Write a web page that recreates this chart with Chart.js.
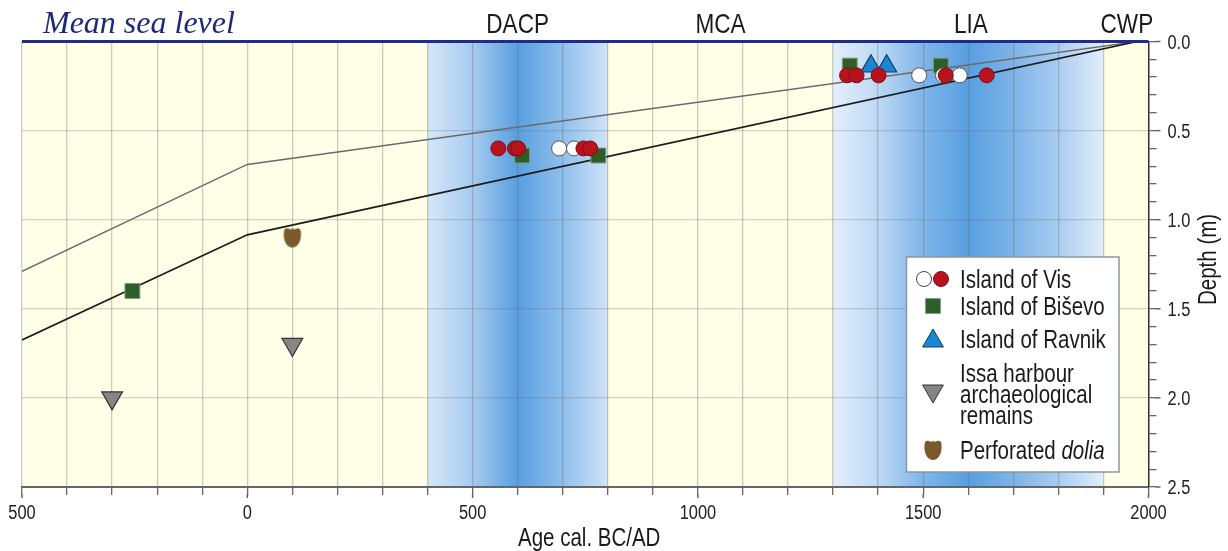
<!DOCTYPE html>
<html>
<head>
<meta charset="utf-8">
<title>Mean sea level</title>
<script src="https://cdn.jsdelivr.net/npm/chart.js@4/dist/chart.umd.js"></script>
<style>
body { margin: 0; background: #fff; }
canvas { display: block; }
</style>
</head>
<body>
<canvas id="myChart" width="1228" height="551"></canvas>
<script>
// rsl curves
const upperAges = [-500, 0, 1975];
const upperDepths = [1.29, 0.69, 0];
const lowerAges = [-500, 0, 1975];
const lowerDepths = [1.675, 1.085, 0];
const seaAges = [-500, 2000];
const seaDepths = [0, 0];

// samples
const visWhiteAges = [692, 725, 1491, 1544, 1581];
const visWhiteDepths = [0.6, 0.6, 0.19, 0.19, 0.19];
const visRedAges = [557, 594, 601, 746, 761, 1331, 1352, 1401, 1550, 1641];
const visRedDepths = [0.6, 0.6, 0.6, 0.6, 0.6, 0.19, 0.19, 0.19, 0.19, 0.19];
const bisevoAges = [-255, 610, 779, 1337, 1539];
const bisevoDepths = [1.4, 0.64, 0.64, 0.135, 0.135];
const ravnikAges = [1384, 1419];
const ravnikDepths = [0.139, 0.139];
const issaAges = [-300, 100];
const issaDepths = [2.0, 1.7];
const doliaAges = [100];
const doliaDepths = [1.1];

// climate periods
const periodLabels = ['DACP', 'MCA', 'LIA', 'CWP'];
const periodCenters = [600, 1050, 1606, 1952];
const bandStarts = [400, 1300];
const bandEnds = [800, 1900];
const bandStops = [
    [[0, '#d6e7f9'], [0.25, '#a6cbef'], [0.5, '#589fe0'], [0.75, '#8fbfec'], [1, '#d0e3f8']],
    [[0, '#e4effb'], [0.17, '#bcd8f4'], [0.33, '#80b6ea'], [0.5, '#589fe0'], [0.67, '#7db4e8'], [0.83, '#a8ccf0'], [1, '#e2eefb']]
];

const SANS = '"Liberation Sans"';
const SQUEEZE = 0.82; // the labels in the figure are condensed

function toPoints(ages, depths) {
    return ages.map((age, i) => ({ x: age, y: depths[i] }));
}

// width of condensed text
function narrowWidth(ctx, text) {
    return ctx.measureText(text).width * SQUEEZE;
}

function narrowText(ctx, text, x, y) {
    ctx.save();
    ctx.translate(x, y);
    ctx.scale(SQUEEZE, 1);
    ctx.fillText(text, 0, 0);
    ctx.restore();
}

function makeDolia() {
    const c = document.createElement('canvas');
    c.width = 20;
    c.height = 22;
    const g = c.getContext('2d');
    g.fillStyle = '#7a5a2d';
    g.beginPath();
    g.moveTo(2, 3);
    g.quadraticCurveTo(4, 1, 6, 2);
    g.quadraticCurveTo(8, 3.5, 10, 2);
    g.quadraticCurveTo(12, 3.5, 14, 2);
    g.quadraticCurveTo(16, 1, 18, 3);
    g.bezierCurveTo(20, 11, 17, 21, 10, 21);
    g.bezierCurveTo(3, 21, 0, 11, 2, 3);
    g.closePath();
    g.fill();
    return c;
}
const doliaImg = makeDolia();

const paperPlugin = {
    id: 'paper',
    beforeDraw(chart) {
        const ctx = chart.ctx;
        const area = chart.chartArea;
        const x = chart.scales.x;
        ctx.save();
        ctx.fillStyle = '#fffee6';
        ctx.fillRect(area.left, area.top, area.right - area.left, area.bottom - area.top);
        bandStarts.forEach((start, i) => {
            const x0 = x.getPixelForValue(start);
            const x1 = x.getPixelForValue(bandEnds[i]);
            const grad = ctx.createLinearGradient(x0, 0, x1, 0);
            bandStops[i].forEach(s => grad.addColorStop(s[0], s[1]));
            ctx.fillStyle = grad;
            ctx.fillRect(x0, area.top, x1 - x0, area.bottom - area.top);
        });
        ctx.restore();
    },
    afterDraw(chart) {
        const ctx = chart.ctx;
        const area = chart.chartArea;
        const xs = chart.scales.x;
        const ys = chart.scales.y;
        ctx.save();

        // longer ticks on the labelled values
        ctx.strokeStyle = '#666';
        ctx.lineWidth = 1.5;
        xs.ticks.forEach(t => {
            if (t.value % 500 === 0) {
                const px = xs.getPixelForValue(t.value);
                ctx.beginPath();
                ctx.moveTo(px, area.bottom + 7);
                ctx.lineTo(px, area.bottom + 11);
                ctx.stroke();
            }
        });
        ys.ticks.forEach(t => {
            if (Math.round(t.value * 10) % 5 === 0) {
                const py = ys.getPixelForValue(t.value);
                ctx.beginPath();
                ctx.moveTo(area.right + 7, py);
                ctx.lineTo(area.right + 12, py);
                ctx.stroke();
            }
        });

        // tick labels, taken from the scales
        ctx.textBaseline = 'alphabetic';
        ctx.fillStyle = '#222';
        ctx.font = '20px ' + SANS;
        xs.ticks.forEach(t => {
            if (t.label) {
                const w = narrowWidth(ctx, t.label);
                narrowText(ctx, t.label, xs.getPixelForValue(t.value) - w / 2, 519);
            }
        });
        ys.ticks.forEach(t => {
            if (t.label) {
                narrowText(ctx, t.label, area.right + 19, ys.getPixelForValue(t.value) + 7);
            }
        });

        // header
        ctx.fillStyle = '#1c2a78';
        ctx.font = 'italic 32px "Liberation Serif"';
        ctx.fillText('Mean sea level', 43, 33);
        ctx.fillStyle = '#1a1a1a';
        ctx.font = '27.5px ' + SANS;
        periodLabels.forEach((label, i) => {
            const w = narrowWidth(ctx, label);
            narrowText(ctx, label, xs.getPixelForValue(periodCenters[i]) - w / 2, 33);
        });

        // axis titles, y reads bottom to top
        ctx.font = '25px ' + SANS;
        narrowText(ctx, 'Age cal. BC/AD', 518, 546);
        ctx.save();
        ctx.translate(1216, 305);
        ctx.rotate(-Math.PI / 2);
        narrowText(ctx, 'Depth (m)', 0, 0);
        ctx.restore();

        // legend box
        ctx.fillStyle = '#fff';
        ctx.strokeStyle = '#8a989c';
        ctx.lineWidth = 1.5;
        ctx.fillRect(906.5, 257, 212.5, 215);
        ctx.strokeRect(906.5, 257, 212.5, 215);

        const draw = Chart.helpers.drawPoint;
        ctx.lineWidth = 1;
        ctx.strokeStyle = '#444';
        ctx.fillStyle = '#fff';
        draw(ctx, { pointStyle: 'circle', radius: 7.5, borderWidth: 1 }, 924, 279);
        ctx.strokeStyle = '#7a1218';
        ctx.fillStyle = '#b8121c';
        draw(ctx, { pointStyle: 'circle', radius: 7.5, borderWidth: 1 }, 941, 279);
        ctx.strokeStyle = '#7f9a7f';
        ctx.fillStyle = '#2b5f25';
        draw(ctx, { pointStyle: 'rect', radius: 10.5, borderWidth: 1 }, 933, 306);
        ctx.strokeStyle = '#163a5c';
        ctx.fillStyle = '#1a86d6';
        draw(ctx, { pointStyle: 'triangle', radius: 12, borderWidth: 1.2 }, 933, 341);
        ctx.strokeStyle = '#333';
        ctx.fillStyle = '#858585';
        draw(ctx, { pointStyle: 'triangle', radius: 12, rotation: 180, borderWidth: 1.2 }, 933, 391);
        ctx.drawImage(doliaImg, 923, 439);

        ctx.fillStyle = '#1a1a1a';
        ctx.font = '25px ' + SANS;
        narrowText(ctx, 'Island of Vis', 960, 288);
        narrowText(ctx, 'Island of Biševo', 960, 315);
        narrowText(ctx, 'Island of Ravnik', 960, 348);
        narrowText(ctx, 'Issa harbour', 960, 382);
        narrowText(ctx, 'archaeological', 960, 403);
        narrowText(ctx, 'remains', 960, 424);
        narrowText(ctx, 'Perforated ', 960, 459);
        const w = narrowWidth(ctx, 'Perforated ');
        ctx.font = 'italic 25px ' + SANS;
        narrowText(ctx, 'dolia', 960 + w, 459);
        ctx.restore();
    }
};

const ctx = document.getElementById('myChart').getContext('2d');
const myChart = new Chart(ctx, {
    type: 'scatter',
    data: {
        datasets: [
            { data: toPoints(seaAges, seaDepths), showLine: true, borderColor: '#1f2c8a', borderWidth: 3, pointRadius: 0, clip: false, order: 7 },
            { data: toPoints(upperAges, upperDepths), showLine: true, borderColor: '#6a6a6a', borderWidth: 1.4, pointRadius: 0, order: 9 },
            { data: toPoints(lowerAges, lowerDepths), showLine: true, borderColor: '#1c1c1c', borderWidth: 1.7, pointRadius: 0, order: 8 },
            { data: toPoints(bisevoAges, bisevoDepths), pointStyle: 'rect', pointRadius: 10.5, backgroundColor: '#2b5f25', borderColor: '#7f9a7f', borderWidth: 1, order: 5 },
            { data: toPoints(ravnikAges, ravnikDepths), pointStyle: 'triangle', pointRadius: 11.5, backgroundColor: '#1a86d6', borderColor: '#163a5c', borderWidth: 1.2, order: 4 },
            { data: toPoints(issaAges, issaDepths), pointStyle: 'triangle', rotation: 180, pointRadius: 12, backgroundColor: '#858585', borderColor: '#333', borderWidth: 1.2, order: 3 },
            { data: toPoints(doliaAges, doliaDepths), pointStyle: doliaImg, order: 3 },
            { data: toPoints(visWhiteAges, visWhiteDepths), pointStyle: 'circle', pointRadius: 7.5, backgroundColor: '#fff', borderColor: '#555', borderWidth: 1, order: 2 },
            { data: toPoints(visRedAges, visRedDepths), pointStyle: 'circle', pointRadius: 7.5, backgroundColor: '#b8121c', borderColor: '#7a1218', borderWidth: 1, order: 1 }
        ]
    },
    options: {
        responsive: false,
        animation: false,
        layout: { padding: { left: 22, top: 41.5, right: 0, bottom: 0 } },
        plugins: { legend: { display: false }, tooltip: { enabled: false } },
        scales: {
            x: {
                type: 'linear',
                min: -500,
                max: 2000,
                afterFit(scale) { scale.height = 64; },
                grid: { color: 'rgba(110,110,110,0.36)', lineWidth: 1.3, tickLength: 8, tickColor: '#666' },
                border: { color: '#666', width: 2 },
                ticks: {
                    display: false,
                    stepSize: 100,
                    autoSkip: false,
                    callback: v => (v % 500 === 0 ? String(Math.abs(v)) : '')
                }
            },
            y: {
                type: 'linear',
                position: 'right',
                reverse: true,
                min: 0,
                max: 2.5,
                afterFit(scale) { scale.width = 79.5; },
                grid: {
                    color: c => (Math.round(c.tick.value * 10) % 5 === 0 ? 'rgba(110,110,110,0.28)' : 'rgba(0,0,0,0)'),
                    lineWidth: 1.3,
                    tickLength: 8,
                    tickColor: '#666'
                },
                border: { color: '#333', width: 1.5 },
                ticks: {
                    display: false,
                    stepSize: 0.1,
                    autoSkip: false,
                    callback: v => (Math.round(v * 10) % 5 === 0 ? v.toFixed(1) : '')
                }
            }
        }
    },
    plugins: [paperPlugin]
});
</script>
</body>
</html>
